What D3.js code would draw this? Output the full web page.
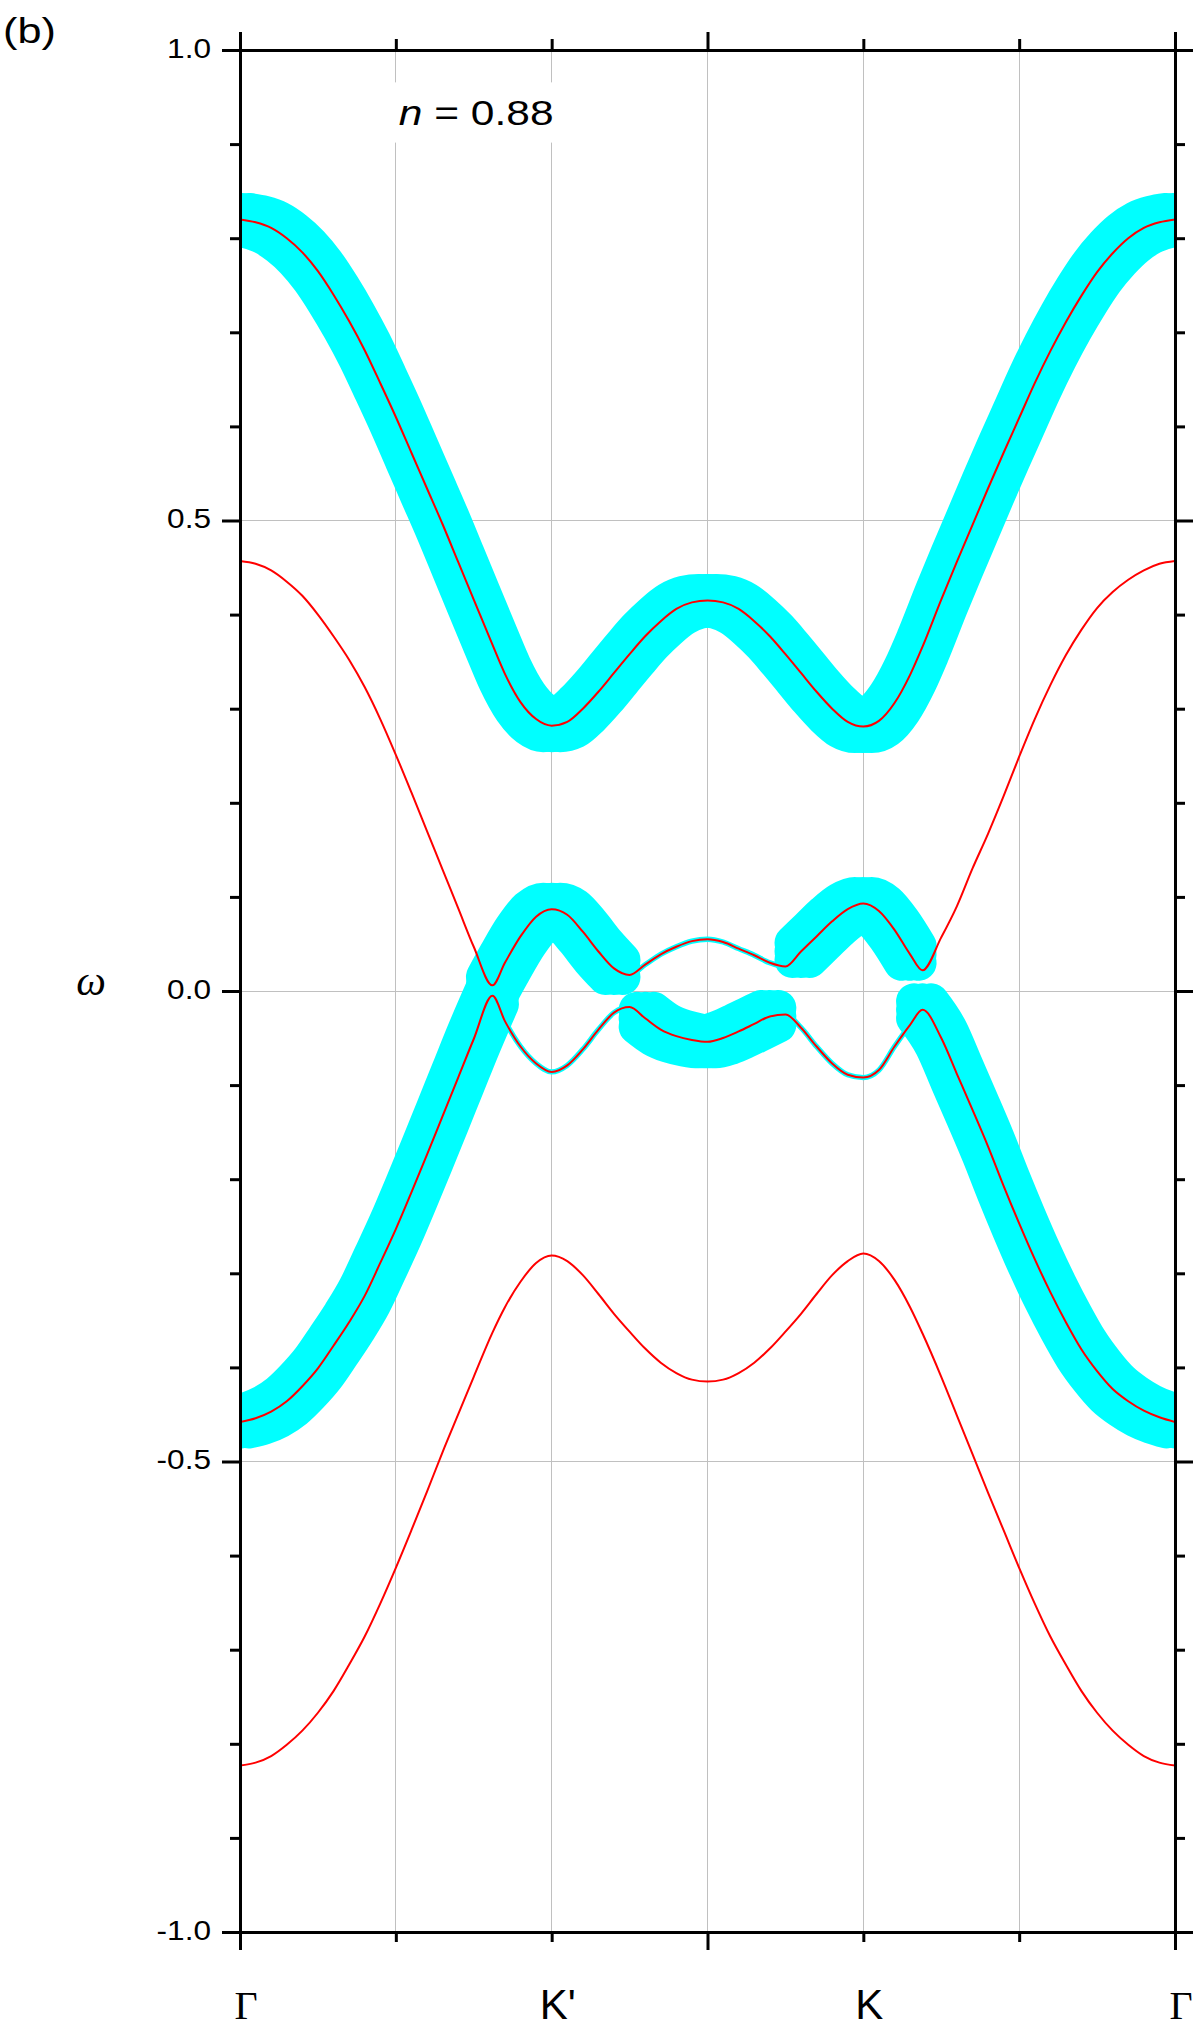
<!DOCTYPE html>
<html>
<head>
<meta charset="utf-8">
<script src="https://cdn.jsdelivr.net/npm/d3@7"></script>
<style>
  html, body { margin: 0; padding: 0; background: #fff; }
  svg { display: block; }
</style>
</head>
<body>
<div id="chart"></div>
<script>
// k-path coordinate (Γ=0, K'=2, M=3, K=4, Γ=6)
const kPath = [
  0.0, 0.1, 0.2, 0.3, 0.4, 0.5, 0.6, 0.7, 0.8, 0.9, 1.0, 1.1, 1.2, 1.3, 1.4, 1.5,
  1.62,
  1.7, 1.8, 1.9, 2.0, 2.1, 2.2, 2.3, 2.4, 2.5, 2.6, 2.7, 2.8, 2.9, 3.0, 3.1, 3.2,
  3.3, 3.4, 3.5, 3.6, 3.7, 3.8, 3.9, 4.0, 4.1, 4.2, 4.3,
  4.38,
  4.5, 4.6, 4.7, 4.8, 4.9, 5.0, 5.1, 5.2, 5.3, 5.4, 5.5, 5.6, 5.7, 5.8, 5.9, 6.0
];

// band energies
const band1 = [
  0.820, 0.817, 0.811, 0.800, 0.785, 0.765, 0.740, 0.712, 0.681, 0.646, 0.610, 0.572, 0.534, 0.496, 0.456, 0.416,
  0.368,
  0.337, 0.307, 0.289, 0.282, 0.286, 0.300, 0.318, 0.338, 0.358, 0.377, 0.393, 0.406, 0.413, 0.415, 0.413, 0.406,
  0.393, 0.377, 0.358, 0.338, 0.318, 0.300, 0.286, 0.281, 0.287, 0.306, 0.336,
  0.366,
  0.416, 0.456, 0.495, 0.534, 0.572, 0.609, 0.646, 0.680, 0.711, 0.739, 0.764, 0.784, 0.800, 0.811, 0.817, 0.820
];
const band2 = [
  0.457, 0.454, 0.447, 0.435, 0.420, 0.400, 0.377, 0.352, 0.323, 0.289, 0.251, 0.211, 0.170, 0.129, 0.088, 0.047,
  0.006,
  0.030, 0.058, 0.079, 0.087, 0.081, 0.063, 0.042, 0.024, 0.017, 0.028, 0.039, 0.047, 0.053, 0.055, 0.052, 0.045,
  0.038, 0.030, 0.026, 0.042, 0.058, 0.074, 0.087, 0.093, 0.085, 0.065, 0.039,
  0.022,
  0.057, 0.090, 0.130, 0.167, 0.207, 0.249, 0.289, 0.325, 0.357, 0.384, 0.407, 0.424, 0.437, 0.447, 0.454, 0.457
];
const band3 = [
  -0.458, -0.454, -0.447, -0.436, -0.420, -0.401, -0.377, -0.352, -0.324, -0.289, -0.253, -0.214, -0.174, -0.133, -0.092, -0.051,
  -0.005,
  -0.032, -0.059, -0.077, -0.086, -0.079, -0.062, -0.041, -0.023, -0.017, -0.029, -0.041, -0.048, -0.052, -0.054, -0.050, -0.043,
  -0.035, -0.027, -0.025, -0.039, -0.059, -0.077, -0.089, -0.092, -0.084, -0.059, -0.036,
  -0.020,
  -0.050, -0.088, -0.126, -0.165, -0.207, -0.247, -0.285, -0.320, -0.352, -0.381, -0.404, -0.423, -0.436, -0.446, -0.453, -0.458
];
const band4 = [
  -0.823, -0.820, -0.813, -0.801, -0.786, -0.767, -0.744, -0.716, -0.686, -0.651, -0.613, -0.573, -0.532, -0.490, -0.450, -0.410,
  -0.363,
  -0.336, -0.309, -0.289, -0.281, -0.287, -0.302, -0.322, -0.343, -0.362, -0.380, -0.395, -0.406, -0.413, -0.415, -0.413, -0.406,
  -0.395, -0.380, -0.362, -0.343, -0.322, -0.302, -0.287, -0.279, -0.287, -0.307, -0.336,
  -0.364,
  -0.410, -0.451, -0.492, -0.533, -0.573, -0.613, -0.651, -0.686, -0.716, -0.744, -0.767, -0.786, -0.801, -0.813, -0.820, -0.823
];

// spectral-weight runs along the path: [first k, last k, relative thickness]
const fat1 = [[0, 6, 1]];
const fat2 = [[1.62, 2.4, 1], [2.4, 3.6, 0.1], [3.6, 4.3, 1]];
const fat3 = [[0, 1.62, 1], [1.62, 2.6, 0.1], [2.6, 3.4, 1], [3.4, 4.38, 0.1], [4.38, 6, 1]];
const fat4 = [];

const kTicks = [0, 2, 4, 6];
const kLabels = ["\u0393", "K'", "K", "\u0393"];
const majorX = [0, 3, 6];
const minorX = [1, 2, 4, 5];
const majorY = [-1, -0.5, 0, 0.5, 1];
const minorY = d3.range(-10, 11).filter(i => i % 5 !== 0).map(i => i / 10);
const gridX = [1, 2, 3, 4, 5];
const gridY = [-0.5, 0, 0.5];

const width = 1200, height = 2034;
const margin = { top: 50, right: 25, bottom: 102, left: 240 };
const innerW = width - margin.left - margin.right;
const innerH = height - margin.top - margin.bottom;
const sansFont = "'Liberation Sans', Arial, sans-serif";
const serifFont = "'Liberation Serif', 'Times New Roman', serif";
const stretch = 1.17;

const svg = d3.select("#chart").append("svg")
  .attr("width", width)
  .attr("height", height)
  .style("font-family", sansFont);
const defs = svg.append("defs");
const g = svg.append("g").attr("transform", `translate(${margin.left},${margin.top})`);

const x = d3.scaleLinear().domain([0, 6]).range([0, innerW]);
const y = d3.scaleLinear().domain([-1, 1]).range([innerH, 0]);

defs.append("clipPath").attr("id", "plot-clip")
  .append("rect").attr("width", innerW).attr("height", innerH);

// grid
const grid = g.append("g").attr("stroke", "#c0c0c0").attr("stroke-width", 1).attr("shape-rendering", "crispEdges");
grid.selectAll(".gx").data(gridX).join("line")
  .attr("x1", d => x(d)).attr("x2", d => x(d))
  .attr("y1", 0).attr("y2", innerH);
grid.selectAll(".gy").data(gridY).join("line")
  .attr("x1", 0).attr("x2", innerW)
  .attr("y1", d => y(d)).attr("y2", d => y(d));

// annotation n = 0.88 with white box over the grid
const note = g.append("g")
  .attr("transform", `translate(${x(1.0) + 3},${y(0.92)}) scale(1.18,1)`);
const noteBox = note.append("rect").attr("fill", "#fff");
const noteText = note.append("text").style("font-size", "36px");
noteText.append("tspan").style("font-style", "italic").text("n");
noteText.append("tspan").text(" = 0.88");
const nb = noteText.node().getBBox();
noteBox.attr("x", nb.x - 9).attr("y", nb.y - 10).attr("width", nb.width + 18).attr("height", nb.height + 20);

// fat bands
const bands = [
  { values: band1, fat: fat1 },
  { values: band2, fat: fat2 },
  { values: band3, fat: fat3 },
  { values: band4, fat: fat4 }
];
const lineXY = d3.line()
  .x(p => x(p[0]))
  .y(p => y(p[1]))
  .curve(d3.curveMonotoneX);
const toPoints = values => values.map((v, i) => [kPath[i], v]);

// full-weight runs are drawn as a rounded square marker swept along the band
const fatWidth = 53;
const cornerR = 18;
const shift = fatWidth / 2 - cornerR;
const offsets = [];
[-shift, 0, shift].forEach(dx => [-shift, 0, shift].forEach(dy => offsets.push([dx, dy])));

const fatG = g.append("g").attr("clip-path", "url(#plot-clip)");
bands.forEach(b => {
  const pts = toPoints(b.values);
  b.fat.forEach(([from, to, lvl]) => {
    const run = pts.filter(p => p[0] >= from - 1e-9 && p[0] <= to + 1e-9);
    const d = lineXY(run);
    const runG = fatG.append("g")
      .attr("fill", "none")
      .attr("stroke", "#00ffff")
      .attr("stroke-linecap", "round")
      .attr("stroke-linejoin", "round");
    if (lvl >= 1) {
      runG.selectAll("path").data(offsets).join("path")
        .attr("transform", o => `translate(${o[0]},${o[1]})`)
        .attr("d", d)
        .attr("stroke-width", cornerR * 2);
    } else {
      runG.append("path")
        .attr("d", d)
        .attr("stroke-width", fatWidth * lvl);
    }
  });
});

// band lines
const redG = g.append("g").attr("clip-path", "url(#plot-clip)");
bands.forEach(b => {
  redG.append("path")
    .attr("d", lineXY(toPoints(b.values)))
    .attr("fill", "none")
    .attr("stroke", "#ff0000")
    .attr("stroke-width", 2);
});

// axes
function styleAxis(sel) {
  sel.select(".domain").attr("stroke-width", 3).attr("stroke-linecap", "square");
  sel.selectAll(".tick line").attr("stroke-width", 3);
}

g.append("g")
  .call(d3.axisLeft(y).tickValues(minorY).tickSize(10).tickSizeOuter(0).tickFormat(""))
  .call(styleAxis);
g.append("g")
  .call(d3.axisLeft(y).tickValues(majorY).tickSize(18).tickPadding(11).tickSizeOuter(0)
    .tickFormat(d => d.toFixed(1)))
  .call(styleAxis)
  .call(a => a.selectAll(".tick text")
    .attr("fill", "#000")
    .style("font-size", "27px")
    .style("font-family", sansFont)
    .attr("x", -29 / stretch)
    .attr("dy", "0.27em")
    .attr("transform", `scale(${stretch},1)`));

g.append("g").attr("transform", `translate(${innerW},0)`)
  .call(d3.axisRight(y).tickValues(minorY).tickSize(10).tickSizeOuter(0).tickFormat(""))
  .call(styleAxis);
g.append("g").attr("transform", `translate(${innerW},0)`)
  .call(d3.axisRight(y).tickValues(majorY).tickSize(18).tickSizeOuter(0).tickFormat(""))
  .call(styleAxis);

g.append("g")
  .call(d3.axisTop(x).tickValues(minorX).tickSize(11).tickSizeOuter(0).tickFormat(""))
  .call(styleAxis);
g.append("g")
  .call(d3.axisTop(x).tickValues(majorX).tickSize(18).tickSizeOuter(0).tickFormat(""))
  .call(styleAxis);

g.append("g").attr("transform", `translate(0,${innerH})`)
  .call(d3.axisBottom(x).tickValues(minorX).tickSize(10).tickSizeOuter(0).tickFormat(""))
  .call(styleAxis);
g.append("g").attr("transform", `translate(0,${innerH})`)
  .call(d3.axisBottom(x).tickValues(majorX).tickSize(18).tickSizeOuter(0).tickFormat(""))
  .call(styleAxis);

// k-point labels
g.append("g").selectAll("text").data(kTicks).join("text")
  .attr("x", d => x(d) + 6)
  .attr("y", innerH + 87)
  .attr("text-anchor", "middle")
  .style("font-family", (d, i) => kLabels[i] === "\u0393" ? serifFont : sansFont)
  .style("font-size", (d, i) => kLabels[i] === "\u0393" ? "40px" : "42px")
  .text((d, i) => kLabels[i]);

// y label
svg.append("text")
  .attr("x", 91)
  .attr("y", margin.top + y(0) + 4)
  .attr("text-anchor", "middle")
  .style("font-family", serifFont)
  .style("font-style", "italic")
  .style("font-size", "42px")
  .text("\u03c9");

// panel tag
svg.append("text")
  .attr("transform", "translate(3,43) scale(1.2,1)")
  .style("font-size", "36px")
  .text("(b)");
</script>
</body>
</html>
